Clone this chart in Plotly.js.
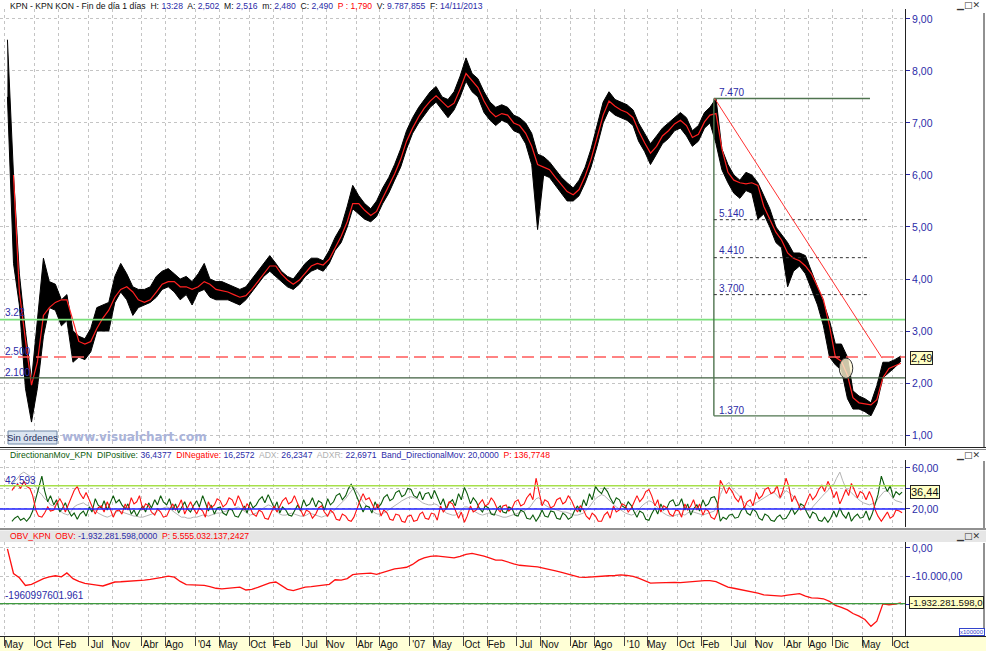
<!DOCTYPE html>
<html>
<head>
<meta charset="utf-8">
<script src="https://cdn.plot.ly/plotly-3.0.1.min.js"></script>
<style>
html,body{margin:0;padding:0;background:#fff;}
#chart{width:986px;height:651px;}
</style>
</head>
<body>
<div id="chart"></div>
<script>
// ---------- DATA, May 2001 .. Nov 2013 ----------
const firstYear = 2001, firstMonth = 5, monthCount = 151;

// price band (typical high / low of the black daily bars, one value per month)
const bandHigh = [
  8.6, 6.0, 4.1, 3.0, 2.05, 3.2, 4.4, 3.95,
  3.9, 3.6, 3.7, 3.0, 2.9, 2.85, 3.05, 3.45, 3.5, 3.55, 4.05, 4.3,
  4.1, 3.85, 3.8, 3.8, 3.85, 4.05, 4.15, 4.2, 4.1, 4.0, 4.05, 3.95,
  4.1, 4.3, 4.0, 3.95, 3.95, 3.9, 3.85, 3.8, 3.85, 4.0, 4.15, 4.3,
  4.45, 4.3, 4.15, 4.05, 4.0, 4.15, 4.3, 4.4, 4.4, 4.35, 4.55, 4.8,
  5.0, 5.4, 5.8, 5.6, 5.45, 5.35, 5.5, 5.75, 5.95, 6.2, 6.5, 6.85,
  7.1, 7.3, 7.45, 7.6, 7.7, 7.5, 7.45, 7.6, 7.9, 8.25, 7.95, 7.85,
  7.6, 7.4, 7.3, 7.35, 7.3, 7.15, 7.1, 7.0, 6.8, 6.4, 6.35, 6.25,
  6.1, 5.95, 5.85, 5.75, 5.9, 6.15, 6.5, 6.95, 7.4, 7.6, 7.45, 7.4,
  7.35, 7.25, 7.0, 6.8, 6.6, 6.75, 6.9, 7.0, 7.1, 7.2, 7.1, 6.85,
  6.95, 7.2, 7.3, 7.47, 6.5, 6.2, 6.0, 5.9, 6.05, 6.0, 5.85, 5.6,
  5.35, 5.0, 4.85, 4.7, 4.5, 4.5, 4.45, 4.15, 3.85, 3.55, 3.2, 2.75,
  2.75, 2.5, 1.85, 1.75, 1.7, 1.62, 1.95, 2.4, 2.4, 2.45, 2.52
];
const bandLow = [
  7.5, 4.3, 3.5, 1.9, 1.25, 1.9, 2.9, 3.45,
  3.4, 3.1, 3.2, 2.4, 2.5, 2.45, 2.6, 3.0, 3.0, 3.0, 3.55, 3.75,
  3.6, 3.3, 3.45, 3.5, 3.55, 3.65, 3.8, 3.85, 3.75, 3.6, 3.7, 3.5,
  3.75, 3.8, 3.65, 3.6, 3.6, 3.6, 3.55, 3.5, 3.6, 3.75, 3.9, 4.05,
  4.15, 4.05, 3.95, 3.85, 3.8, 3.9, 4.05, 4.15, 4.2, 4.15, 4.3, 4.55,
  4.7, 5.0, 5.35, 5.25, 5.15, 5.1, 5.2, 5.45, 5.65, 5.9, 6.15, 6.5,
  6.8, 7.0, 7.15, 7.3, 7.4, 7.25, 7.1, 7.25, 7.5, 7.8, 7.6, 7.5,
  7.2, 7.05, 6.95, 7.05, 7.0, 6.85, 6.8, 6.6, 6.2, 4.95, 6.0, 5.95,
  5.8, 5.65, 5.5, 5.5, 5.6, 5.85, 6.15, 6.55, 7.0, 7.25, 7.15, 7.1,
  7.05, 6.95, 6.65, 6.45, 6.2, 6.4, 6.6, 6.7, 6.85, 6.9, 6.75, 6.55,
  6.65, 6.9, 7.0, 6.6, 6.1, 5.85, 5.65, 5.55, 5.7, 5.65, 5.15, 5.25,
  5.0, 4.7, 4.6, 3.85, 4.15, 4.25, 4.1, 3.8, 3.5, 3.1, 2.5, 2.35,
  2.25, 1.7, 1.5, 1.5, 1.45, 1.37, 1.6, 2.1, 2.2, 2.3, 2.42
];
const movingAvg = [
  null, 6.0, 3.75, 2.83, 1.96, 2.4, 3.3, 3.45,
  3.55, 3.6, 3.6, 3.2, 2.8, 2.75, 2.8, 3.05, 3.25, 3.4, 3.65, 3.8,
  3.85, 3.75, 3.6, 3.55, 3.6, 3.75, 3.9, 3.95, 3.95, 3.85, 3.85, 3.8,
  3.85, 3.95, 3.9, 3.8, 3.78, 3.75, 3.7, 3.65, 3.68, 3.8, 3.95, 4.1,
  4.25, 4.25, 4.1, 3.98, 3.9, 3.98, 4.12, 4.25, 4.3, 4.27, 4.38, 4.6,
  4.82, 5.1, 5.45, 5.45, 5.32, 5.22, 5.3, 5.55, 5.78, 6.02, 6.3, 6.65,
  6.9, 7.12, 7.28, 7.42, 7.52, 7.4, 7.3, 7.38, 7.65, 7.95, 7.82, 7.68,
  7.42, 7.22, 7.12, 7.18, 7.15, 7.0, 6.95, 6.8, 6.55, 6.2, 6.15, 6.1,
  5.95, 5.8, 5.68, 5.62, 5.72, 5.98, 6.3, 6.72, 7.15, 7.42, 7.32, 7.25,
  7.2, 7.1, 6.85, 6.62, 6.42, 6.55, 6.75, 6.85, 6.98, 7.05, 6.95, 6.72,
  6.78, 7.02, 7.15, 7.18, 6.5, 6.05, 5.9, 5.85, 5.83, 5.85, 5.8, 5.4,
  5.15, 4.9, 4.75, 4.5, 4.4, 4.35, 4.25, 4.1, 3.85, 3.6, 3.1, 2.5,
  2.42, 2.15, 1.72, 1.62, 1.6, 1.58, 1.68, 2.1, 2.28, 2.33, 2.38
];

// Directional movement: two readings per month
const diPositive = [
  null,null, 8,11, 13,9, 11,8, 12,18, 30,40, 52,38, 27,33,
  24,29, 17,21, 26,19, 13,16, 10,15, 18,13, 22,17, 30,24, 21,28, 19,25, 33,26, 29,24,
  20,25, 15,19, 13,18, 23,17, 26,21, 29,24, 33,27, 24,30, 19,25, 16,21, 27,20, 17,23,
  28,22, 33,26, 18,24, 15,21, 22,16, 14,20, 19,13, 12,17, 23,16, 27,21, 24,29, 32,26,
  34,28, 21,27, 16,22, 19,14, 13,18, 24,18, 29,23, 25,31, 22,28, 26,19, 30,24, 27,33,
  35,29, 33,40, 44,39, 31,25, 17,23, 22,16, 27,21, 25,31, 34,28, 30,36, 38,32, 34,40,
  39,33, 31,37, 29,35, 36,30, 38,32, 24,30, 20,26, 29,23, 35,29, 41,35, 25,31, 27,21,
  17,23, 21,15, 14,20, 23,17, 16,22, 20,14, 13,19, 17,11, 10,14, 8,12, 19,13, 12,18,
  17,11, 10,16, 14,10, 12,18, 23,17, 29,23, 35,29, 42,38, 35,41, 37,31, 25,31, 29,23,
  21,27, 23,17, 12,18, 16,10, 9,15, 21,15, 25,19, 21,27, 29,23, 24,30, 19,25, 14,20,
  24,18, 29,23, 25,31, 32,26, 8,12, 10,14, 15,11, 12,18, 22,16, 14,20, 17,11, 9,15,
  13,9, 8,12, 14,10, 11,15, 21,15, 19,25, 23,17, 11,17, 15,9, 8,12, 7,11, 18,12,
  21,15, 11,17, 8,12, 15,11, 12,18, 9,15, 26,34, 52,44, 37,43, 31,37, 34,36.44
];
const diNegative = [
  null,null, 38,42, 44,40, 47,42, 40,33, 19,13, 12,16, 22,18,
  19,25, 30,25, 17,23, 32,38, 42,35, 30,36, 29,23, 15,21, 23,17, 27,21, 12,18, 19,15,
  25,19, 31,25, 27,33, 19,25, 23,17, 14,20, 17,12, 13,19, 25,19, 23,29, 15,21, 27,21,
  15,21, 18,12, 27,21, 24,30, 28,22, 25,31, 29,23, 33,27, 19,25, 21,15, 13,19, 17,11,
  10,16, 23,17, 22,28, 31,25, 27,33, 25,19, 13,19, 17,11, 15,21, 23,17, 13,19, 16,10,
  9,15, 13,9, 8,12, 22,28, 35,29, 31,25, 19,25, 13,19, 16,10, 9,15, 14,8, 7,13,
  14,8, 9,15, 17,11, 10,16, 15,9, 23,17, 21,27, 25,19, 11,17, 7,13, 23,17, 19,25,
  29,23, 25,31, 27,21, 17,23, 24,18, 21,27, 29,23, 25,31, 35,29, 50,38, 23,29, 27,21,
  23,29, 31,25, 27,33, 28,22, 17,23, 19,13, 10,16, 13,8, 8,14, 17,11, 23,17, 19,25,
  23,17, 21,27, 33,27, 31,37, 39,33, 23,29, 17,23, 21,15, 13,19, 18,12, 25,19, 23,29,
  19,25, 14,20, 18,12, 10,16, 48,43, 35,41, 37,31, 27,33, 21,27, 29,23, 36,30, 33,39,
  41,35, 37,43, 31,37, 50,42, 27,33, 25,19, 21,27, 35,29, 33,39, 43,37, 47,41, 31,37,
  25,31, 39,33, 45,39, 31,37, 35,29, 37,31, 19,13, 8,12, 17,11, 13,19, 18,16.26
];
const adx = [
  null,null, 43,47, 50,54, 56,54, 52,47, 42,37, 34,30, 28,24,
  23,20, 19,16, 15,14, 18,22, 24,25, 26,24, 23,20, 19,16, 14,13, 12,13, 15,17, 18,17,
  16,15, 14,13, 13,12, 12,13, 14,15, 16,18, 20,21, 22,21, 18,16, 14,12, 12,11, 11,12,
  12,13, 14,14, 13,14, 15,16, 16,17, 18,19, 20,21, 22,20, 18,16, 14,15, 16,18, 20,22,
  24,23, 20,17, 15,14, 14,15, 16,15, 14,13, 13,14, 16,15, 14,13, 12,13, 14,16, 18,21,
  24,27, 30,34, 38,41, 37,32, 27,24, 21,18, 16,15, 15,16, 18,20, 22,24, 26,28, 30,31,
  32,31, 30,28, 26,25, 24,24, 25,24, 21,19, 16,15, 14,14, 16,19, 22,22, 20,18, 16,15,
  14,15, 16,16, 15,14, 13,12, 12,13, 14,15, 16,17, 18,20, 22,26, 30,31, 27,24, 22,21,
  20,19, 18,17, 17,16, 15,14, 14,15, 16,19, 22,26, 30,32, 34,33, 30,27, 24,22, 20,18,
  16,15, 14,15, 18,21, 24,26, 28,27, 24,21, 18,16, 14,13, 13,14, 15,15, 14,16, 18,17,
  16,15, 14,15, 16,17, 18,24, 34,40, 44,46, 40,37, 34,30, 26,24, 22,24, 26,28, 30,32,
  34,35, 36,33, 30,34, 38,36, 34,30, 26,23, 20,19, 18,22, 26,29, 32,35, 38,42, 44,50,
  56,48, 40,38, 36,33, 30,28, 26,25, 24,25, 26,30, 34,37, 38,34, 30,28, 27,26.23
];

// OBV in units of 100.000 shares (the axis multiplier), one value per month
const obv = [
  -300, -9000, -10500, -13200, -12800, -11800, -10800, -10200,
  -9800, -10200, -8800, -10800, -11800, -12500, -12700, -13100, -13400, -12600, -12000, -11900,
  -11800, -11700, -11500, -11300, -11100, -10800, -10400, -9900, -10300, -11800, -12900, -13000,
  -13000, -13200, -13600, -14200, -14400, -14200, -14000, -13800, -14800, -14600, -13900, -13100,
  -12300, -12000, -13300, -14600, -15000, -14300, -13800, -13600, -13400, -13200, -12800, -11200,
  -11300, -10800, -9400, -9100, -9000, -8900, -9300, -8700, -7900, -7400, -7100, -6800,
  -5800, -4300, -3500, -3000, -2800, -3000, -3400, -3500, -3000, -2300, -1900, -2300,
  -2900, -3600, -4300, -4300, -5000, -5600, -6100, -6400, -6500, -6700, -7100, -7700,
  -8100, -8600, -9100, -9700, -10300, -10400, -10200, -10100, -10000, -9800, -9700, -9500,
  -9700, -10000, -10600, -11400, -12400, -12300, -12200, -12200, -12100, -12200, -12000, -11900,
  -11700, -11500, -11500, -11900, -12800, -13800, -14200, -14600, -15000, -15400, -15900, -16500,
  -16700, -16900, -17000, -16600, -16400, -16100, -17000, -17600, -17700, -17900, -18800, -20200,
  -20900, -21800, -23100, -24000, -25200, -27600, -25800, -19700, -20000, -19800, -19323
];

const tickDates = ['2001-05-01','2001-10-01','2002-02-01','2002-07-01','2002-11-01','2003-04-01','2003-08-01',
  '2004-01-01','2004-05-01','2004-10-01','2005-02-01','2005-07-01','2005-11-01','2006-04-01','2006-08-01',
  '2007-01-01','2007-05-01','2007-10-01','2008-02-01','2008-07-01','2008-11-01','2009-04-01','2009-08-01',
  '2010-01-01','2010-05-01','2010-10-01','2011-02-01','2011-07-01','2011-11-01','2012-04-01','2012-08-01',
  '2012-12-01','2013-05-01','2013-10-01'];
const tickLabels = ['May','Oct','Feb','Jul','Nov','Abr','Ago',"'04",'May','Oct','Feb','Jul','Nov','Abr','Ago',
  "'07",'May','Oct','Feb','Jul','Nov','Abr','Ago',"'10",'May','Oct','Feb','Jul','Nov','Abr','Ago','Dic','May','Oct'];

// horizontal study levels
const levelGreen = 3.22, levelRed = 2.5, levelDark = 2.1;
const fibLevels = [5.14, 4.41, 3.70];
const fibTop = 7.47, fibBottom = 1.37;
const dmiLevel = 42.593, dmiBand = 20;
const obvLevel = -19609.97601961;
const lastPrice = 2.49, lastDI = 36.44, lastObv = -19322.81598;

// ---------- x positions ----------
const pad2 = n => String(n).padStart(2, '0');
const months = [], halfMonths = [];
for (let i = 0; i < monthCount; i++) {
  const mm = firstMonth - 1 + i;
  const ym = (firstYear + Math.floor(mm / 12)) + '-' + pad2((mm % 12) + 1);
  months.push(ym + '-15');
  halfMonths.push(ym + '-07', ym + '-21');
}

// ---------- helpers for pixel placement of decorations ----------
const PW = 905, H = 651;
const X = p => p / PW;
const Y = p => 1 - p / H;
const FONT = 'Liberation Sans, Arial, sans-serif';
const BLUE = '#2b2ba8';

const traces = [
  {x: months, y: bandHigh, type: 'scatter', mode: 'lines', line: {color: '#000', width: 1}, xaxis: 'x', yaxis: 'y', hoverinfo: 'skip'},
  {x: months, y: bandLow, type: 'scatter', mode: 'lines', fill: 'tonexty', fillcolor: '#000', line: {color: '#000', width: 1}, xaxis: 'x', yaxis: 'y', hoverinfo: 'skip'},
  {x: months, y: movingAvg, type: 'scatter', mode: 'lines', line: {color: '#ff2020', width: 1.2}, xaxis: 'x', yaxis: 'y'},
  {x: halfMonths, y: adx, type: 'scatter', mode: 'lines', line: {color: '#b4b4b4', width: 1}, xaxis: 'x', yaxis: 'y2'},
  {x: halfMonths, y: diPositive, type: 'scatter', mode: 'lines', line: {color: '#0a5a0a', width: 1.1}, xaxis: 'x', yaxis: 'y2'},
  {x: halfMonths, y: diNegative, type: 'scatter', mode: 'lines', line: {color: '#ff1010', width: 1.1}, xaxis: 'x', yaxis: 'y2'},
  {x: months, y: obv, type: 'scatter', mode: 'lines', line: {color: '#ff1010', width: 1.3}, xaxis: 'x', yaxis: 'y3'}
];

const shapes = [
  {type: 'rect', xref: 'paper', yref: 'paper', x0: X(0), x1: X(986), y0: Y(651), y1: Y(637), fillcolor: '#ffffd6', line: {width: 0}, layer: 'below'},
  {type: 'rect', xref: 'paper', yref: 'paper', x0: X(0), x1: X(986), y0: Y(542), y1: Y(530.5), fillcolor: '#e6e6e6', line: {width: 0}, layer: 'below'},
  {type: 'line', xref: 'paper', yref: 'paper', x0: X(0), x1: X(986), y0: Y(447.5), y1: Y(447.5), line: {color: '#222', width: 1}},
  {type: 'line', xref: 'paper', yref: 'paper', x0: X(0), x1: X(986), y0: Y(449.5), y1: Y(449.5), line: {color: '#888', width: 1}},
  {type: 'line', xref: 'paper', yref: 'paper', x0: X(0), x1: X(986), y0: Y(529), y1: Y(529), line: {color: '#222', width: 1}},
  {type: 'line', xref: 'paper', yref: 'paper', x0: X(0), x1: X(986), y0: Y(636.5), y1: Y(636.5), line: {color: '#222', width: 1}},
  {type: 'line', xref: 'paper', yref: 'paper', x0: X(984), x1: X(984), y0: Y(447), y1: Y(13), line: {color: '#222', width: 1}},
  {type: 'line', xref: 'paper', yref: 'paper', x0: X(984), x1: X(984), y0: Y(528), y1: Y(461), line: {color: '#222', width: 1}},
  {type: 'line', xref: 'paper', yref: 'paper', x0: X(984), x1: X(984), y0: Y(636), y1: Y(543), line: {color: '#222', width: 1}},
  {type: 'line', xref: 'paper', yref: 'y', x0: 0, x1: 1, y0: levelGreen, y1: levelGreen, line: {color: '#7be07b', width: 1.6}},
  {type: 'line', xref: 'paper', yref: 'y', x0: 0, x1: 1, y0: levelRed, y1: levelRed, line: {color: '#ff5a5a', width: 1.6, dash: '12px,6px'}},
  {type: 'line', xref: 'paper', yref: 'y', x0: 0, x1: 1, y0: levelDark, y1: levelDark, line: {color: '#3f5f3f', width: 1.2}},
  {type: 'line', xref: 'x', yref: 'y', x0: '2011-04-04', x1: '2013-06-10', y0: fibTop, y1: fibTop, line: {color: '#4f744f', width: 1.4}},
  {type: 'line', xref: 'x', yref: 'y', x0: '2011-04-04', x1: '2013-06-10', y0: fibBottom, y1: fibBottom, line: {color: '#4f744f', width: 1.4}},
  {type: 'line', xref: 'x', yref: 'y', x0: '2011-04-04', x1: '2011-04-04', y0: fibBottom, y1: fibTop, line: {color: '#4f744f', width: 1.4}},
  ...fibLevels.map(v => ({type: 'line', xref: 'x', yref: 'y', x0: '2011-04-04', x1: '2013-06-10', y0: v, y1: v, line: {color: '#333', width: 1, dash: 'dot'}})),
  {type: 'line', xref: 'x', yref: 'y', x0: '2011-04-08', x1: '2013-08-11', y0: fibTop, y1: 2.48, line: {color: '#ff3030', width: 1}},
  {type: 'circle', xref: 'x', yref: 'y', x0: '2013-01-04', x1: '2013-03-14', y0: 2.09, y1: 2.48, fillcolor: 'rgba(255,246,210,0.8)', line: {color: '#333', width: 1}},
  {type: 'line', xref: 'paper', yref: 'y2', x0: 0, x1: 1, y0: dmiLevel, y1: dmiLevel, line: {color: '#a6e04a', width: 1.4}},
  {type: 'line', xref: 'paper', yref: 'y2', x0: 0, x1: 1, y0: dmiBand, y1: dmiBand, line: {color: '#2020ff', width: 1.5}},
  {type: 'line', xref: 'paper', yref: 'y3', x0: 0, x1: 1, y0: obvLevel, y1: obvLevel, line: {color: '#3f9a3f', width: 1.2}},
  {type: 'rect', xref: 'paper', yref: 'paper', x0: X(8), x1: X(57), y0: Y(444), y1: Y(431), fillcolor: '#dbe5f0', line: {color: '#6f87a6', width: 1}}
];

const span = (c, t) => '<span style="color:' + c + '">' + t + '</span>';
const headerPrice = span('#111', 'KPN - KPN KON - Fin de día 1 días  H: ') + span(BLUE, '13:28') +
  span('#111', '  A: ') + span(BLUE, '2,502') + span('#111', '  M: ') + span(BLUE, '2,516') +
  span('#111', '  m: ') + span(BLUE, '2,480') + span('#111', '  C: ') + span(BLUE, '2,490') +
  span('#ff0000', '  P : 1,790') + span('#111', '  V: ') + span(BLUE, '9.787.855') +
  span('#111', '  F: ') + span(BLUE, '14/11/2013');
const headerDmi = span('#0a5a0a', 'DirectionanMov_KPN  DIPositive: ') + span(BLUE, '36,4377') +
  span('#ff0000', '  DINegative: ') + span(BLUE, '16,2572') + span('#b0b0b0', '  ADX: ') + span(BLUE, '26,2347') +
  span('#b0b0b0', '  ADXR: ') + span(BLUE, '22,6971') + span(BLUE, '  Band_DirectionalMov: 20,0000') +
  span('#ff0000', '  P: 136,7748');
const headerObv = span('#ff0000', 'OBV_KPN  OBV: ') + span(BLUE, '-1.932.281.598,0000') +
  span('#ff0000', '  P: 5.555.032.137,2427');

const ann = (o) => Object.assign({showarrow: false, font: {family: FONT, size: 10, color: BLUE}}, o);
const annotations = [
  ann({xref: 'paper', yref: 'paper', x: X(8), y: Y(6), xanchor: 'left', yanchor: 'middle', text: headerPrice, font: {family: FONT, size: 8.6, color: '#111'}}),
  ann({xref: 'paper', yref: 'paper', x: X(8), y: Y(455), xanchor: 'left', yanchor: 'middle', text: headerDmi, font: {family: FONT, size: 8.6, color: '#111'}}),
  ann({xref: 'paper', yref: 'paper', x: X(8), y: Y(536), xanchor: 'left', yanchor: 'middle', text: headerObv, font: {family: FONT, size: 8.6, color: '#111'}}),
  ...[6, 455, 536].map(yy => ann({xref: 'paper', yref: 'paper', x: X(982), y: Y(yy), xanchor: 'right', yanchor: 'middle', text: '▁□✕', font: {family: 'DejaVu Sans', size: 9, color: '#333'}})),
  ann({xref: 'paper', yref: 'paper', x: X(3), y: Y(313), xanchor: 'left', yanchor: 'middle', text: '3.22'}),
  ann({xref: 'paper', yref: 'paper', x: X(3), y: Y(351), xanchor: 'left', yanchor: 'middle', text: '2.500'}),
  ann({xref: 'paper', yref: 'paper', x: X(3), y: Y(372), xanchor: 'left', yanchor: 'middle', text: '2.100'}),
  ann({xref: 'paper', yref: 'paper', x: X(3), y: Y(480), xanchor: 'left', yanchor: 'middle', text: '42.593'}),
  ann({xref: 'paper', yref: 'paper', x: X(3), y: Y(595), xanchor: 'left', yanchor: 'middle', text: '-1960997601.961'}),
  ann({xref: 'paper', yref: 'paper', x: X(717), y: Y(92), xanchor: 'left', yanchor: 'middle', text: '7.470'}),
  ann({xref: 'paper', yref: 'paper', x: X(717), y: Y(213), xanchor: 'left', yanchor: 'middle', text: '5.140'}),
  ann({xref: 'paper', yref: 'paper', x: X(717), y: Y(250), xanchor: 'left', yanchor: 'middle', text: '4.410'}),
  ann({xref: 'paper', yref: 'paper', x: X(717), y: Y(288), xanchor: 'left', yanchor: 'middle', text: '3.700'}),
  ann({xref: 'paper', yref: 'paper', x: X(717), y: Y(410), xanchor: 'left', yanchor: 'middle', text: '1.370'}),
  ann({xref: 'paper', yref: 'paper', x: X(32.5), y: Y(437.5), xanchor: 'center', yanchor: 'middle', text: 'Sin órdenes', font: {family: FONT, size: 9.5, color: '#1c2c5c'}}),
  ann({xref: 'paper', yref: 'paper', x: X(60), y: Y(437), xanchor: 'left', yanchor: 'middle', text: '<b>www.visualchart.com</b>', font: {family: 'DejaVu Sans, sans-serif', size: 12, color: '#aab3d9'}}),
  ann({xref: 'paper', yref: 'y', x: X(910), y: lastPrice, xanchor: 'left', yanchor: 'middle', text: '2,49', bgcolor: '#ffffc4', bordercolor: '#222', borderwidth: 1, borderpad: 0, font: {family: FONT, size: 11, color: '#111'}}),
  ann({xref: 'paper', yref: 'y2', x: X(910), y: lastDI, xanchor: 'left', yanchor: 'middle', text: '36,44', bgcolor: '#ffffc4', bordercolor: '#222', borderwidth: 1, borderpad: 0, font: {family: FONT, size: 11, color: '#111'}}),
  ann({xref: 'paper', yref: 'y3', x: X(909), y: lastObv, xanchor: 'left', yanchor: 'middle', text: '-1.932.281.598,0', bgcolor: '#ffffc4', bordercolor: '#222', borderwidth: 1, borderpad: 0, font: {family: FONT, size: 9.6, color: '#111'}}),
  ann({xref: 'paper', yref: 'paper', x: X(985), y: Y(632), xanchor: 'right', yanchor: 'middle', text: 'x100000', bordercolor: '#3344cc', borderwidth: 1, borderpad: 0, bgcolor: '#fff', font: {family: FONT, size: 6, color: '#3344cc'}})
];

const yCommon = {
  side: 'right', anchor: 'x', showline: true, linecolor: '#222', linewidth: 1,
  ticks: 'outside', ticklen: 4, tickcolor: '#2b2ba8',
  tickfont: {family: FONT, size: 10.5, color: '#2b2ba8'},
  showgrid: true, gridcolor: '#c4c4c4', griddash: 'dot', gridwidth: 1, zeroline: false, fixedrange: true
};

const layout = {
  width: 986, height: 651,
  margin: {l: 0, r: 81, t: 0, b: 0, pad: 0},
  paper_bgcolor: '#ffffff', plot_bgcolor: 'rgba(0,0,0,0)',
  separators: ',.',
  showlegend: false,
  xaxis: {
    type: 'date', anchor: 'y3', domain: [0, 1], range: ['2001-04-07', '2013-12-06'],
    tickmode: 'array', tickvals: tickDates, ticktext: tickLabels,
    ticks: 'outside', ticklen: 9, tickcolor: '#444', tickwidth: 1,
    ticklabelshift: 9, ticklabelstandoff: -10,
    tickfont: {family: FONT, size: 10, color: '#111'},
    showgrid: true, gridcolor: '#c4c4c4', griddash: 'dot', gridwidth: 1,
    showline: false, zeroline: false, fixedrange: true
  },
  yaxis: Object.assign({}, yCommon, {domain: [Y(446), Y(9)], range: [0.79, 9.19], tickvals: [1,2,3,4,5,6,7,8,9], tickformat: '.2f'}),
  yaxis2: Object.assign({}, yCommon, {domain: [Y(527), Y(460)], range: [2.4, 67.8], tickvals: [20, 40, 60], ticktext: ['20,00', '', '60,00']}),
  yaxis3: Object.assign({}, yCommon, {domain: [Y(636), Y(542)], range: [-31010, 2090], tickvals: [0, -10000, -20000], ticktext: ['0,00', '-10.000,00', '']}),
  shapes: shapes,
  annotations: annotations
};

Plotly.newPlot('chart', traces, layout, {staticPlot: true, displayModeBar: false});
</script>
</body>
</html>
